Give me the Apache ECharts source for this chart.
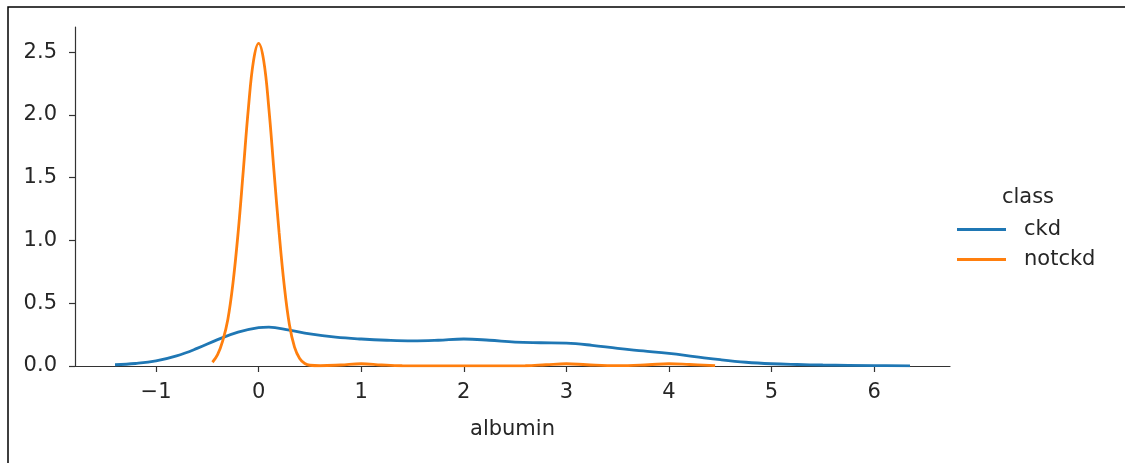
<!DOCTYPE html>
<html>
<head>
<meta charset="utf-8">
<script src="https://cdn.jsdelivr.net/npm/echarts@6/dist/echarts.min.js"></script>
<style>
  html, body { margin: 0; padding: 0; background: #ffffff; }
  #chart { width: 1125px; height: 463px; }
</style>
</head>
<body>
<div id="chart"></div>
<script>
// ---- data ----
const seriesNames = ['ckd', 'notckd'];
const ckdX = [-1.4, -1.2, -1.0, -0.8, -0.6, -0.4, -0.2, 0.0, 0.1, 0.3, 0.5, 0.75, 1.0, 1.25, 1.5, 1.75, 2.0, 2.25, 2.5, 2.75, 3.0, 3.25, 3.5, 3.75, 4.0, 4.25, 4.5, 4.75, 5.0, 5.25, 5.5, 6.0, 6.35];
const ckdY = [0.01, 0.02, 0.04, 0.08, 0.14, 0.21, 0.27, 0.305, 0.31, 0.285, 0.255, 0.23, 0.215, 0.205, 0.2, 0.205, 0.215, 0.205, 0.19, 0.185, 0.182, 0.165, 0.14, 0.12, 0.1, 0.075, 0.05, 0.03, 0.018, 0.012, 0.008, 0.003, 0.001];
const notckdX = [-0.45, -0.4, -0.35, -0.3, -0.25, -0.2, -0.15, -0.1, -0.05, 0.0, 0.05, 0.1, 0.15, 0.2, 0.25, 0.3, 0.35, 0.4, 0.45, 0.5, 0.6, 0.8, 1.0, 1.2, 1.4, 2.0, 2.6, 2.8, 3.0, 3.2, 3.5, 3.8, 4.0, 4.2, 4.45];
const notckdY = [0.03, 0.09, 0.2, 0.37, 0.66, 1.06, 1.55, 2.05, 2.43, 2.57, 2.43, 2.05, 1.55, 1.06, 0.64, 0.33, 0.15, 0.06, 0.02, 0.006, 0.002, 0.008, 0.018, 0.008, 0.002, 0.001, 0.002, 0.01, 0.018, 0.01, 0.003, 0.01, 0.018, 0.012, 0.003];
const xTicks = [-1, 0, 1, 2, 3, 4, 5, 6];
const xTickLabels = ['\u22121', '0', '1', '2', '3', '4', '5', '6'];
const yTicks = [0, 0.5, 1.0, 1.5, 2.0, 2.5];
const yTickLabels = ['0.0', '0.5', '1.0', '1.5', '2.0', '2.5'];
const xAxisTitle = 'albumin';
const legendTitle = 'class';

// ---- chart ----
const FONT = 'DejaVu Sans';
const FS = 21;
const TEXT = '#262626';
const AXIS = '#333333';
const colors = ['#1f77b4', '#ff7f0e'];

function pairs(xs, ys) { return xs.map((x, i) => [x, ys[i]]); }
function labelFor(ticks, labels) {
  return function (v) {
    for (let i = 0; i < ticks.length; i++) {
      if (Math.abs(ticks[i] - v) < 1e-9) return labels[i];
    }
    return '';
  };
}

const chart = echarts.init(document.getElementById('chart'), null, { renderer: 'canvas' });
chart.setOption({
  animation: false,
  backgroundColor: '#ffffff',
  color: colors,
  grid: { left: 75, top: 27, right: 175, bottom: 97, containLabel: false },
  xAxis: {
    type: 'value',
    min: -1.79,
    max: 6.74,
    name: xAxisTitle,
    nameLocation: 'middle',
    nameGap: 53,
    nameTextStyle: { fontFamily: FONT, fontSize: FS, color: TEXT },
    axisLine: { show: true, onZero: false, lineStyle: { color: AXIS, width: 1.2 } },
    axisTick: { show: true, length: 6, customValues: xTicks, lineStyle: { color: AXIS, width: 1.2 } },
    axisLabel: { customValues: xTicks, formatter: labelFor(xTicks, xTickLabels), margin: 16, fontFamily: FONT, fontSize: FS, color: TEXT },
    splitLine: { show: false }
  },
  yAxis: {
    type: 'value',
    min: 0,
    max: 2.70,
    axisLine: { show: true, onZero: false, lineStyle: { color: AXIS, width: 1.2 } },
    axisTick: { show: true, length: 6, customValues: yTicks, lineStyle: { color: AXIS, width: 1.2 } },
    axisLabel: { customValues: yTicks, formatter: labelFor(yTicks, yTickLabels), margin: 18, fontFamily: FONT, fontSize: FS, color: TEXT },
    splitLine: { show: false }
  },
  legend: {
    orient: 'vertical',
    left: 952,
    top: 214,
    itemWidth: 49,
    itemHeight: 3,
    itemGap: 9,
    icon: 'rect',
    textStyle: { fontFamily: FONT, fontSize: FS, color: TEXT, padding: [0, 0, 0, 13] },
    data: seriesNames
  },
  graphic: [
    {
      type: 'text',
      x: 1028,
      y: 187,
      style: { text: legendTitle, font: FS + 'px "DejaVu Sans"', fill: TEXT, textAlign: 'center', textVerticalAlign: 'top' }
    },
    {
      type: 'rect',
      silent: true,
      shape: { x: 8, y: 7, width: 1300, height: 700 },
      style: { fill: 'none', stroke: '#000000', lineWidth: 1.5 }
    }
  ],
  series: [
    {
      name: seriesNames[0],
      type: 'line',
      data: pairs(ckdX, ckdY),
      smooth: 0.4,
      showSymbol: false,
      symbol: 'none',
      lineStyle: { width: 2.8, color: colors[0] },
      z: 2
    },
    {
      name: seriesNames[1],
      type: 'line',
      data: pairs(notckdX, notckdY),
      smooth: 0.4,
      showSymbol: false,
      symbol: 'none',
      lineStyle: { width: 2.8, color: colors[1] },
      z: 3
    }
  ]
});
</script>
</body>
</html>
